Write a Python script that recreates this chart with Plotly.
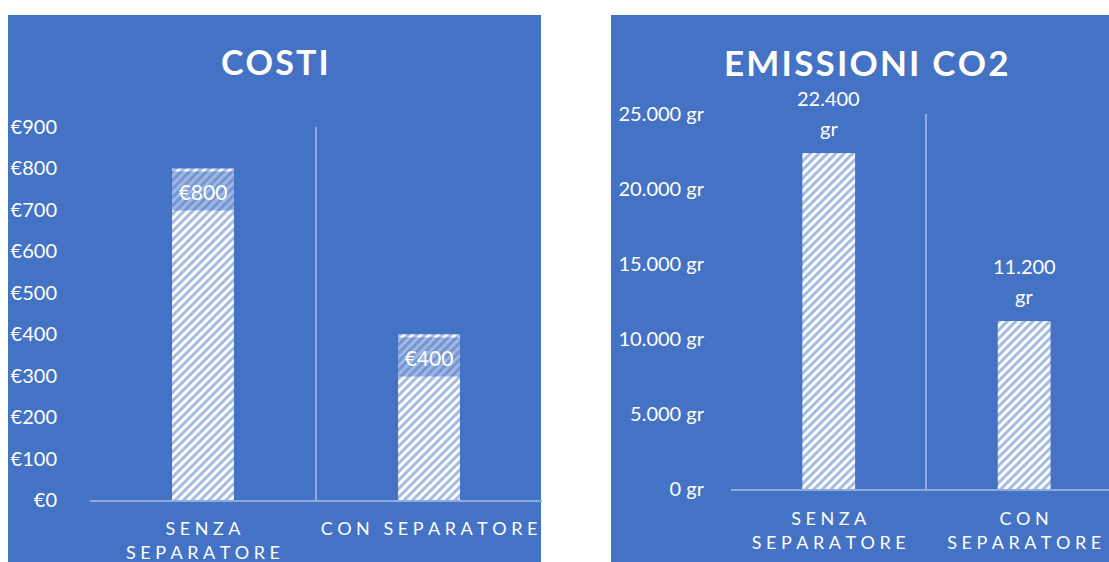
import plotly.graph_objects as go

# ---- data ----
categories = ["Senza separatore", "Con separatore"]
cost_values = [800, 400]
cost_ticks = [0, 100, 200, 300, 400, 500, 600, 700, 800, 900]
co2_values = [22400, 11200]
co2_ticks = [0, 5000, 10000, 15000, 20000, 25000]
cost_title = "COSTI"
co2_title = "EMISSIONI CO2"
cost_cat_labels = ["SENZA<br>SEPARATORE", "CON SEPARATORE"]
co2_cat_labels = ["SENZA<br>SEPARATORE", "CON<br>SEPARATORE"]

BLUE = "#4472C4"
GRID = "#8FAADC"
FONT = "Lato"
W, H = 1109, 562

SP = "\u2005"


def spaced(s, sep=SP):
    lines = s.split("<br>")
    out = []
    for ln in lines:
        words = ln.split(" ")
        out.append((sep + " " + sep).join(sep.join(w) for w in words))
    return "<br>".join(out)


def fmt_it(v):
    return f"{v:,}".replace(",", ".")


def px_x(p):
    return p / W


def px_y(p):
    return (H - p) / H


fig = go.Figure()

pattern = dict(shape="/", fgcolor=BLUE, bgcolor="white", size=6, solidity=0.5)

fig.add_trace(go.Bar(
    x=categories, y=cost_values, width=0.274,
    marker=dict(color="white", line=dict(width=0), pattern=pattern),
    xaxis="x", yaxis="y", showlegend=False, hoverinfo="skip",
))
fig.add_trace(go.Bar(
    x=categories, y=co2_values, width=0.27,
    marker=dict(color="white", line=dict(width=0), pattern=pattern),
    xaxis="x2", yaxis="y2", showlegend=False, hoverinfo="skip",
))

annotations = []
# cost data labels (inside end, semi-transparent box)
for c, v in zip(categories, cost_values):
    annotations.append(dict(
        x=c, y=v, xref="x", yref="y", yanchor="top", yshift=-3,
        text="€" + fmt_it(v), showarrow=False,
        font=dict(family=FONT, size=21, color="white"),
        bgcolor="rgba(68,114,196,0.5)", borderpad=0, width=62, height=38,
    ))
# co2 data labels (outside end, two lines)
for c, v in zip(categories, co2_values):
    annotations.append(dict(
        x=c, y=v, xref="x2", yref="y2", yanchor="middle", yshift=55,
        text=fmt_it(v), showarrow=False,
        font=dict(family=FONT, size=20, color="white"),
    ))
    annotations.append(dict(
        x=c, y=v, xref="x2", yref="y2", yanchor="middle", yshift=25,
        text="gr", showarrow=False,
        font=dict(family=FONT, size=20, color="white"),
    ))
# titles
annotations.append(dict(
    x=px_x(275), y=px_y(62), xref="paper", yref="paper",
    xanchor="center", yanchor="middle", showarrow=False,
    text="<b>" + spaced(cost_title, "\u200a") + "</b>",
    font=dict(family=FONT, size=34, color="white"),
))
annotations.append(dict(
    x=px_x(866), y=px_y(62), xref="paper", yref="paper",
    xanchor="center", yanchor="middle", showarrow=False,
    text="<b>" + spaced(co2_title, "\u200a") + "</b>",
    font=dict(family=FONT, size=35, color="white"),
))

shapes = [
    dict(type="rect", xref="paper", yref="paper", layer="below",
         x0=px_x(8), x1=px_x(541), y0=0, y1=px_y(15),
         fillcolor=BLUE, line=dict(width=0)),
    dict(type="rect", xref="paper", yref="paper", layer="below",
         x0=px_x(611), x1=1, y0=0, y1=px_y(15),
         fillcolor=BLUE, line=dict(width=0)),
]

xcommon = dict(
    type="category", tickson="boundaries", showgrid=True, gridcolor=GRID,
    gridwidth=1.5, showline=True, linecolor=GRID, linewidth=1.5,
    ticks="", tickangle=0,
    tickfont=dict(family=FONT, size=18, color="white"),
    zeroline=False, fixedrange=True, automargin=False,
)
ycommon = dict(
    showgrid=False, zeroline=False, showline=False, ticks="outside",
    tickcolor="rgba(0,0,0,0)", automargin=False,
    tickfont=dict(family=FONT, size=20, color="white"), fixedrange=True,
)

fig.update_layout(
    width=W, height=H, margin=dict(l=0, r=0, t=0, b=0, autoexpand=False),
    paper_bgcolor="white", plot_bgcolor="rgba(0,0,0,0)",
    showlegend=False, annotations=annotations, shapes=shapes,
    xaxis=dict(xcommon, domain=[px_x(90), px_x(542)], range=[-0.5, 1.5],
               tickvals=categories, ticktext=[spaced(t) for t in cost_cat_labels],
               ticklabelstandoff=12),
    yaxis=dict(ycommon, domain=[px_y(500), px_y(127)], range=[0, 900],
               tickvals=cost_ticks, ticktext=["€" + fmt_it(v) for v in cost_ticks],
               ticklen=28),
    xaxis2=dict(xcommon, domain=[px_x(731), 1], range=[-0.5, 1.434], anchor="y2",
                tickvals=categories, ticktext=[spaced(t) for t in co2_cat_labels],
                ticklabelstandoff=13),
    yaxis2=dict(ycommon, domain=[px_y(489), px_y(114)], range=[0, 25000],
                anchor="x2", tickvals=co2_ticks,
                ticktext=[fmt_it(v) + " gr" for v in co2_ticks], ticklen=22),
)

fig.write_html("out.html")
